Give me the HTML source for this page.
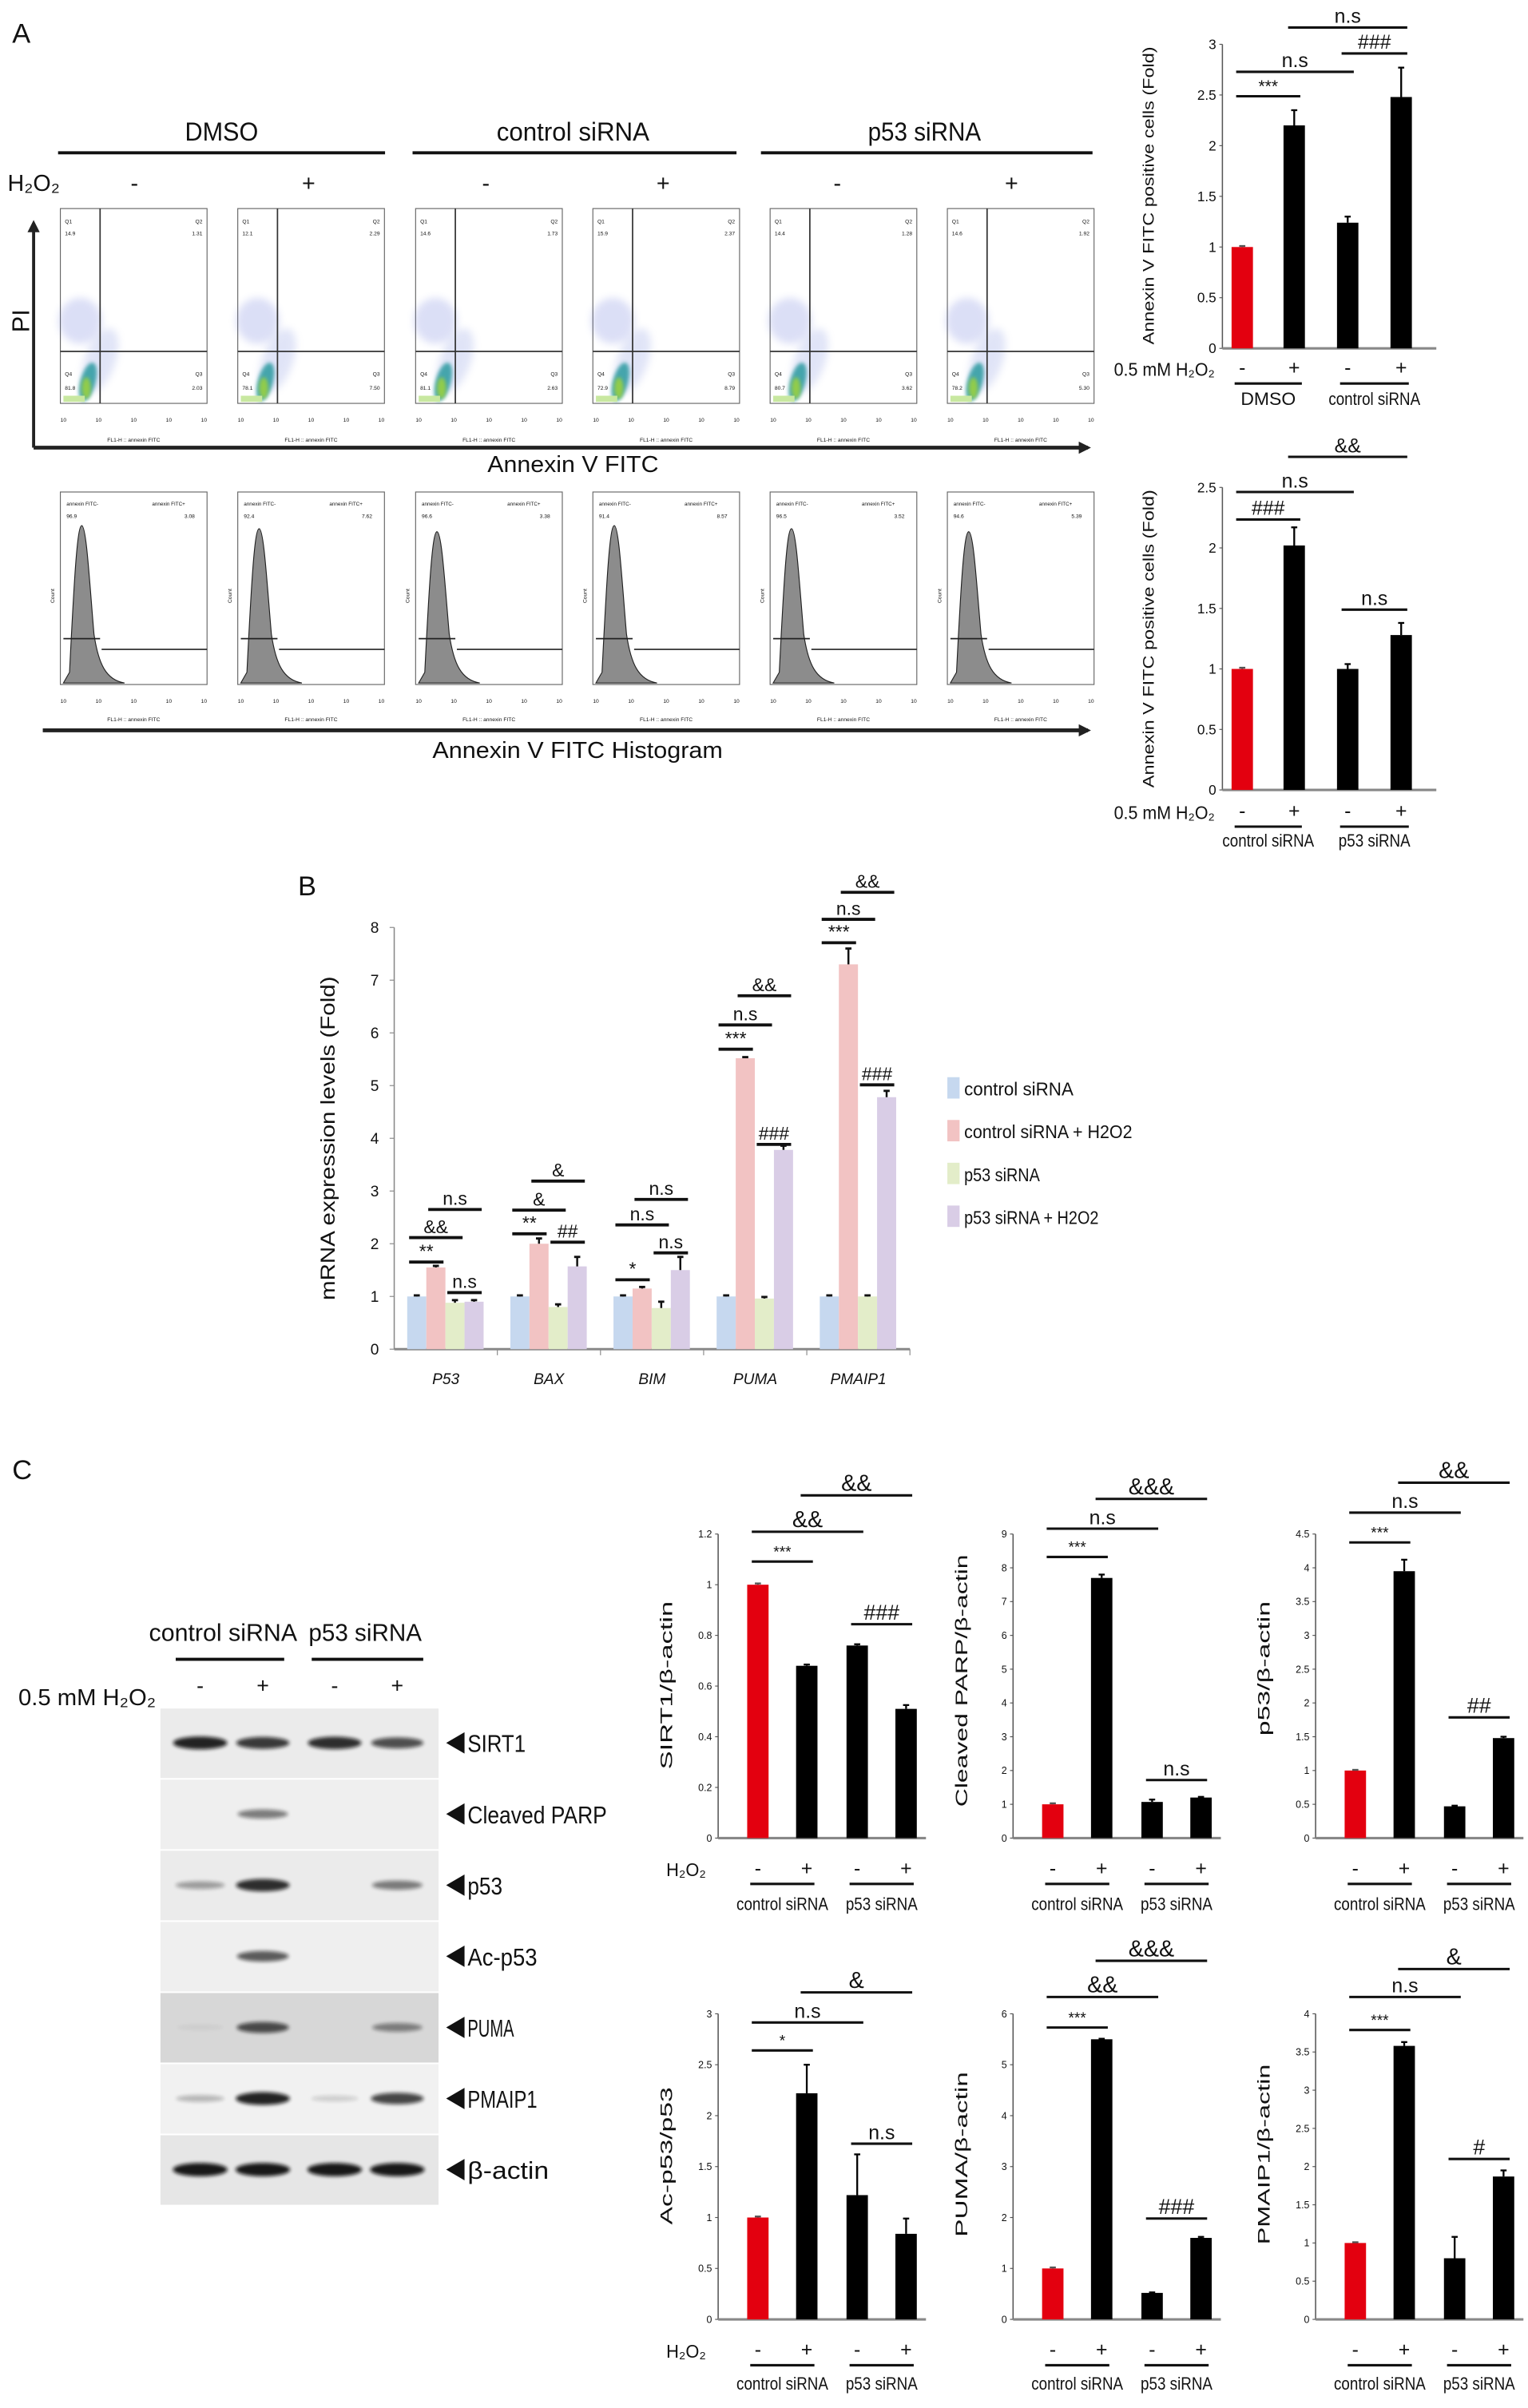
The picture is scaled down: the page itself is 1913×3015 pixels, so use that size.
<!DOCTYPE html>
<html><head><meta charset="utf-8"><title>Figure</title>
<style>
html,body{margin:0;padding:0;background:#fff;}
svg{display:block;}
text{font-family:"Liberation Sans Narrow","Liberation Sans",sans-serif;fill:#111;}
</style></head>
<body>
<svg id="fig" xmlns="http://www.w3.org/2000/svg" width="1913" height="3015" viewBox="0 0 1000 1576" preserveAspectRatio="none">
<defs>
<filter id="blur1" x="-50%" y="-50%" width="200%" height="200%"><feGaussianBlur stdDeviation="1.2"/></filter>
<filter id="blur2" x="-50%" y="-50%" width="200%" height="200%"><feGaussianBlur stdDeviation="2.5"/></filter>
<marker id="ah" markerWidth="8" markerHeight="8" refX="6" refY="4" orient="auto" markerUnits="userSpaceOnUse"><path d="M0,0 L8,4 L0,8 Z" fill="#222"/></marker>
</defs>
</svg>
<script>
// ---------- DATA ----------
const a1Groups = ["DMSO", "control siRNA"];
const a1Values = [1.0, 2.2, 1.24, 2.48];
const a1Errors = [0.01, 0.15, 0.06, 0.29];
const a1Ticks = [0, 0.5, 1, 1.5, 2, 2.5, 3];

const a2Groups = ["control siRNA", "p53 siRNA"];
const a2Values = [1.0, 2.02, 1.0, 1.28];
const a2Errors = [0.01, 0.15, 0.04, 0.1];
const a2Ticks = [0, 0.5, 1, 1.5, 2, 2.5];

const bCategories = ["P53", "BAX", "BIM", "PUMA", "PMAIP1"];
const bSeriesNames = ["control siRNA", "control siRNA + H2O2", "p53 siRNA", "p53 siRNA + H2O2"];
const bControl = [1, 1, 1, 1, 1];
const bControlH2O2 = [1.55, 2.0, 1.15, 5.52, 7.3];
const bP53 = [0.88, 0.8, 0.78, 0.96, 1.0];
const bP53H2O2 = [0.9, 1.57, 1.5, 3.78, 4.78];
const bErrControl = [0.02, 0.02, 0.02, 0.02, 0.02];
const bErrControlH2O2 = [0.03, 0.1, 0.03, 0.02, 0.3];
const bErrP53 = [0.05, 0.05, 0.12, 0.03, 0.02];
const bErrP53H2O2 = [0.03, 0.18, 0.25, 0.08, 0.12];
const bTicks = [0, 1, 2, 3, 4, 5, 6, 7, 8];

const cSirt1Values = [1.0, 0.68, 0.76, 0.51];
const cSirt1Errors = [0.005, 0.005, 0.005, 0.015];
const cSirt1Ticks = [0, 0.2, 0.4, 0.6, 0.8, 1, 1.2];
const cParpValues = [1.0, 7.7, 1.07, 1.2];
const cParpErrors = [0.03, 0.1, 0.07, 0.02];
const cParpTicks = [0, 1, 2, 3, 4, 5, 6, 7, 8, 9];
const cP53Values = [1.0, 3.95, 0.47, 1.48];
const cP53Errors = [0.01, 0.17, 0.01, 0.02];
const cP53Ticks = [0, 0.5, 1, 1.5, 2, 2.5, 3, 3.5, 4, 4.5];
const cAcValues = [1.0, 2.22, 1.22, 0.84];
const cAcErrors = [0.01, 0.28, 0.4, 0.15];
const cAcTicks = [0, 0.5, 1, 1.5, 2, 2.5, 3];
const cPumaValues = [1.0, 5.5, 0.52, 1.6];
const cPumaErrors = [0.02, 0.01, 0.01, 0.02];
const cPumaTicks = [0, 1, 2, 3, 4, 5, 6];
const cPmaipValues = [1.0, 3.58, 0.8, 1.87];
const cPmaipErrors = [0.01, 0.05, 0.28, 0.08];
const cPmaipTicks = [0, 0.5, 1, 1.5, 2, 2.5, 3, 3.5, 4];
const cGroups = ["control siRNA", "p53 siRNA"];

const flowQ = [["14.9","1.31","81.8","2.03"],["12.1","2.29","78.1","7.50"],["14.6","1.73","81.1","2.63"],["15.9","2.37","72.9","8.79"],["14.4","1.28","80.7","3.62"],["14.6","1.92","78.2","5.30"]];
const histQ = [["96.9","3.08"],["92.4","7.62"],["96.6","3.38"],["91.4","8.57"],["96.5","3.52"],["94.6","5.39"]];

const blotRows = ["SIRT1", "Cleaved PARP", "p53", "Ac-p53", "PUMA", "PMAIP1", "β-actin"];
const blotIntensity = [[0.9,0.8,0.85,0.7],[0,0.5,0,0],[0.35,0.85,0,0.5],[0,0.65,0,0],[0.05,0.7,0,0.45],[0.25,0.9,0.15,0.75],[0.95,0.95,0.95,0.95]];

// ---------- HELPERS ----------
const NS = 'http://www.w3.org/2000/svg';
const svg = document.getElementById('fig');
function mk(tag, attrs, parent) {
  const e = document.createElementNS(NS, tag);
  for (const k in attrs) e.setAttribute(k, attrs[k]);
  (parent || svg).appendChild(e);
  return e;
}
function line(x1, y1, x2, y2, w, name, color) {
  const l = mk('line', {x1: x1, y1: y1, x2: x2, y2: y2, stroke: color || '#111', 'stroke-width': w});
  
  
  return l;
}
function txt(x, y, s, size, anchor, name, opts) {
  const t = mk('text', {x: x, y: y, 'font-size': size, 'text-anchor': anchor || 'middle'});
  t.textContent = s;
  if (opts && opts.len) { t.setAttribute('textLength', opts.len); t.setAttribute('lengthAdjust', 'spacingAndGlyphs'); }
  if (opts && opts.rot) t.setAttribute('transform', 'rotate(-90 ' + x + ' ' + y + ')');
  if (opts && opts.style) t.setAttribute('font-style', opts.style);
  if (opts && opts.weight) t.setAttribute('font-weight', opts.weight);
  if (opts && opts.family) t.setAttribute('style', 'font-family:' + opts.family);
  
  
  return t;
}
function fmt(v) { return String(+v.toFixed(2)); }

function sig(cx, i1, i2, y, label, size) {
  line(cx[i1] - 4, y, cx[i2] + 4, y, 1.6, 'significance-bar');
  txt((cx[i1] + cx[i2]) / 2, y - 3, label, size || 11, 'middle', 'significance-label');
}

function barChart(cfg, values, errors, ticks, groups) {
  const ax = cfg.ax, y0 = cfg.y0, y1 = cfg.y1, max = ticks[ticks.length - 1];
  const ys = v => y0 - v / max * (y0 - y1);
  const cx = cfg.offsets.map(o => ax + o);
  line(ax, y1, ax, y0, 0.8, 'y-axis', '#555');
  line(ax, y0, ax + cfg.baseLen, y0, 1.6, 'x-axis', '#888');
  ticks.forEach(t => {
    line(ax - 2, ys(t), ax, ys(t), 0.6, 'y-tick', '#555');
    txt(ax - 4, ys(t) + cfg.tickSize * 0.35, fmt(t), cfg.tickSize, 'end', 'y-tick-label');
  });
  values.forEach((v, i) => {
    const r = mk('rect', {x: cx[i] - cfg.bw / 2, y: ys(v), width: cfg.bw, height: y0 - ys(v), fill: i === 0 ? '#e3000f' : '#000'});
    
    
    const e = errors[i];
    line(cx[i], ys(v), cx[i], ys(v + e), 1.2, 'error-bar', i === 0 ? '#555' : '#000');
    line(cx[i] - 2, ys(v + e), cx[i] + 2, ys(v + e), 1.2, 'error-cap', i === 0 ? '#555' : '#000');
  });
  txt(cfg.ylx, cfg.yly, cfg.ylabel, cfg.ylSize, 'middle', 'y-axis-title', {rot: true, len: cfg.ylLen, family: '"Liberation Sans",sans-serif'});
  txt(cfg.hx, cfg.sy + 1, cfg.hlabel, 12, 'end', 'h2o2-label', {len: cfg.hLen});
  ['-', '+', '-', '+'].forEach((s, i) => txt(cx[i], cfg.sy, s, 13, 'middle', 'treatment-sign'));
  line(cx[0] - 5, cfg.ly, cx[1] + 5, cfg.ly, 1.6, 'group-underline');
  line(cx[2] - 5, cfg.ly, cx[3] + 5, cfg.ly, 1.6, 'group-underline');
  txt((cx[0] + cx[1]) / 2, cfg.gy, groups[0], 11.5, 'middle', 'group-label', {len: groups[0].length > 5 ? 60 : 36});
  txt((cx[2] + cx[3]) / 2, cfg.gy, groups[1], 11.5, 'middle', 'group-label', {len: groups[1].length > 5 ? (groups[1] === 'p53 siRNA' ? 47 : 60) : 36});
  return cx;
}

// ---------- PANEL A ----------
txt(8, 28, 'A', 18, 'start', 'panel-a-label');
[['DMSO', 145, 38, 252, 48], ['control siRNA', 375, 270, 482, 100], ['p53 siRNA', 605, 498, 715, 74]].forEach(h => {
  txt(h[1], 92, h[0], 17, 'middle', 'condition-header', {len: h[4]});
  line(h[2], 100, h[3], 100, 2, 'header-underline');
});
txt(5, 125, 'H₂O₂', 15, 'start', 'h2o2-row-label');
[88, 202, 318, 434, 548, 662].forEach((x, i) => txt(x, 125, i % 2 ? '+' : '-', 15, 'middle', 'treatment-sign'));
const pl = mk('path', {d: 'M22,293 L22,146', stroke: '#222', 'stroke-width': 2, 'marker-end': 'url(#ah)', fill: 'none'});


txt(19, 210, 'PI', 16, 'middle', 'pi-axis-title', {rot: true});
const ax1 = mk('path', {d: 'M22,293 L712,293', stroke: '#222', 'stroke-width': 2.5, 'marker-end': 'url(#ah)', fill: 'none'});


txt(375, 309, 'Annexin V FITC', 15, 'middle', 'annexin-axis-title', {len: 112});

const boxL = [39.5, 155.6, 272, 388, 504, 620];
boxL.forEach((L, i) => {
  const g = mk('g', {});
  
  
  mk('rect', {x: L, y: 136.5, width: 96, height: 127.5, fill: '#fff', stroke: '#666', 'stroke-width': 0.6}, g);
  mk('ellipse', {cx: L + 13, cy: 210, rx: 14, ry: 15, fill: '#6070d8', opacity: 0.22, filter: 'url(#blur2)'}, g);
  mk('ellipse', {cx: L + 26, cy: 236, rx: 10, ry: 22, fill: '#6a7ed8', opacity: 0.2, filter: 'url(#blur2)', transform: 'rotate(20 ' + (L + 26) + ' 236)'}, g);
  mk('ellipse', {cx: L + 18, cy: 250, rx: 5, ry: 13, fill: '#2a9aa0', opacity: 0.85, filter: 'url(#blur1)', transform: 'rotate(15 ' + (L + 18) + ' 250)'}, g);
  mk('ellipse', {cx: L + 17, cy: 254, rx: 3, ry: 7, fill: '#9ad040', opacity: 0.9, filter: 'url(#blur1)'}, g);
  mk('rect', {x: L + 2, y: 259, width: 14, height: 4, fill: '#c8e8a0'}, g);
  mk('line', {x1: L + 26, y1: 136.5, x2: L + 26, y2: 264, stroke: '#333', 'stroke-width': 0.9}, g);
  mk('line', {x1: L, y1: 230, x2: L + 96, y2: 230, stroke: '#333', 'stroke-width': 0.9}, g);
  const q = flowQ[i];
  txt(L + 3, 146, 'Q1', 3.5, 'start', 'quadrant-name');
  txt(L + 3, 154, q[0], 3.5, 'start', 'quadrant-value');
  txt(L + 93, 146, 'Q2', 3.5, 'end', 'quadrant-name');
  txt(L + 93, 154, q[1], 3.5, 'end', 'quadrant-value');
  txt(L + 3, 246, 'Q4', 3.5, 'start', 'quadrant-name');
  txt(L + 3, 255, q[2], 3.5, 'start', 'quadrant-value');
  txt(L + 93, 246, 'Q3', 3.5, 'end', 'quadrant-name');
  txt(L + 93, 255, q[3], 3.5, 'end', 'quadrant-value');
  [0, 1, 2, 3, 4].forEach(k => txt(L + 2 + k * 23, 276, '10', 3.5, 'middle', 'x-tick-label'));
  txt(L + 48, 289, 'FL1-H :: annexin FITC', 3.5, 'middle', 'x-axis-title');
  const hg = mk('g', {});
  
  
  mk('rect', {x: L, y: 322, width: 96, height: 126, fill: '#fff', stroke: '#666', 'stroke-width': 0.6}, hg);
  const pk = 344 + (i % 3) * 2;
  mk('path', {d: 'M' + (L + 2) + ',447 L' + (L + 6) + ',440 C' + (L + 9) + ',380 ' + (L + 11) + ',' + pk + ' ' + (L + 14) + ',' + pk + ' C' + (L + 17) + ',' + pk + ' ' + (L + 19) + ',380 ' + (L + 22) + ',415 C' + (L + 25) + ',435 ' + (L + 30) + ',445 ' + (L + 42) + ',447 Z', fill: '#8c8c8c', stroke: '#222', 'stroke-width': 0.6}, hg);
  mk('line', {x1: L + 2, y1: 418, x2: L + 26, y2: 418, stroke: '#222', 'stroke-width': 0.9}, hg);
  mk('line', {x1: L + 27, y1: 425, x2: L + 96, y2: 425, stroke: '#222', 'stroke-width': 0.9}, hg);
  txt(L + 4, 331, 'annexin FITC-', 3.3, 'start', 'gate-name');
  txt(L + 60, 331, 'annexin FITC+', 3.3, 'start', 'gate-name');
  txt(L + 4, 339, histQ[i][0], 3.5, 'start', 'gate-value');
  txt(L + 88, 339, histQ[i][1], 3.5, 'end', 'gate-value');
  txt(L - 4, 390, 'Count', 3.5, 'middle', 'hist-y-title', {rot: true});
  [0, 1, 2, 3, 4].forEach(k => txt(L + 2 + k * 23, 460, '10', 3.5, 'middle', 'x-tick-label'));
  txt(L + 48, 472, 'FL1-H :: annexin FITC', 3.5, 'middle', 'x-axis-title');
});
const ax2 = mk('path', {d: 'M28,478 L712,478', stroke: '#222', 'stroke-width': 2.5, 'marker-end': 'url(#ah)', fill: 'none'});


txt(378, 496, 'Annexin V FITC Histogram', 15, 'middle', 'histogram-axis-title', {len: 190});

const cxA1 = barChart({ax: 800, y0: 228, y1: 29, offsets: [13, 47, 82, 117], bw: 14, baseLen: 140, tickSize: 9,
  ylabel: 'Annexin V FITC positive cells (Fold)', ylx: 755, yly: 128, ylSize: 10, ylLen: 195,
  hx: 795, hlabel: '0.5 mM H₂O₂', hLen: 66, sy: 245, ly: 251, gy: 265}, a1Values, a1Errors, a1Ticks, a1Groups);
sig(cxA1, 0, 1, 63, '***', 11);
sig(cxA1, 0, 2, 47, 'n.s', 13);
sig(cxA1, 2, 3, 35, '###', 13);
sig(cxA1, 1, 3, 18, 'n.s', 13);
const cxA2 = barChart({ax: 800, y0: 517, y1: 319, offsets: [13, 47, 82, 117], bw: 14, baseLen: 140, tickSize: 9,
  ylabel: 'Annexin V FITC positive cells (Fold)', ylx: 755, yly: 418, ylSize: 10, ylLen: 195,
  hx: 795, hlabel: '0.5 mM H₂O₂', hLen: 66, sy: 535, ly: 541, gy: 554}, a2Values, a2Errors, a2Ticks, a2Groups);
sig(cxA2, 0, 1, 340, '###', 13);
sig(cxA2, 0, 2, 322, 'n.s', 13);
sig(cxA2, 1, 3, 299, '&&', 13);
sig(cxA2, 2, 3, 399, 'n.s', 13);

// ---------- PANEL B ----------
txt(195, 586, 'B', 18, 'start', 'panel-b-label');
(function () {
  const ax = 258, y0 = 883, y1 = 607, max = 8, gw = 67.5, bw = 12.5;
  const ys = v => y0 - v / max * (y0 - y1);
  const series = [bControl, bControlH2O2, bP53, bP53H2O2];
  const errs = [bErrControl, bErrControlH2O2, bErrP53, bErrP53H2O2];
  const colors = ['#c6d8ef', '#f2c3c3', '#e3edc9', '#d9cde6'];
  line(ax, y1, ax, y0, 0.8, 'y-axis', '#888');
  line(ax, y0, ax + gw * 5, y0, 1.6, 'x-axis', '#888');
  bTicks.forEach(t => {
    line(ax - 3, ys(t), ax, ys(t), 0.6, 'y-tick', '#888');
    txt(ax - 10, ys(t) + 3.5, fmt(t), 10, 'end', 'y-tick-label');
  });
  bCategories.forEach((c, gi) => {
    line(ax + gw * (gi + 1), y0, ax + gw * (gi + 1), y0 + 4, 0.6, 'x-tick', '#888');
    txt(ax + gw * gi + gw / 2, 906, c, 10, 'middle', 'category-label', {style: 'italic'});
    series.forEach((s, si) => {
      const x = ax + gw * gi + 8.5 + si * bw;
      const r = mk('rect', {x: x, y: ys(s[gi]), width: bw, height: y0 - ys(s[gi]), fill: colors[si]});
      
      
      const e = errs[si][gi];
      line(x + bw / 2, ys(s[gi]), x + bw / 2, ys(s[gi] + e), 1.3, 'error-bar');
      line(x + bw / 2 - 2, ys(s[gi] + e), x + bw / 2 + 2, ys(s[gi] + e), 1.5, 'error-cap');
    });
  });
  txt(219, 745, 'mRNA expression levels (Fold)', 13, 'middle', 'y-axis-title', {rot: true, len: 212, family: '"Liberation Sans",sans-serif'});
  bSeriesNames.forEach((n, i) => {
    const r = mk('rect', {x: 620, y: 705 + i * 28, width: 8, height: 14, fill: colors[i]});
    
    
    txt(631, 717 + i * 28, n, 12, 'start', 'legend-entry', {len: n.length * 5.5});
  });
  const bc = (g, s) => ax + gw * g + 8.5 + s * bw + bw / 2;
  const bs = (g, s1, s2, y, lab) => {
    line(bc(g, s1) - 5, y, bc(g, s2) + 5, y, 2, 'significance-bar');
    txt((bc(g, s1) + bc(g, s2)) / 2, y - 3, lab, 12, 'middle', 'significance-label');
  };
  bs(0, 0, 1, 826, '**'); bs(0, 0, 2, 810, '&&'); bs(0, 1, 3, 791.6, 'n.s'); bs(0, 2, 3, 846, 'n.s');
  bs(1, 0, 1, 807.5, '**'); bs(1, 0, 2, 792, '&'); bs(1, 1, 3, 773, '&'); bs(1, 2, 3, 813, '##');
  bs(2, 0, 1, 837.6, '*'); bs(2, 0, 2, 801.7, 'n.s'); bs(2, 1, 3, 785, 'n.s'); bs(2, 2, 3, 820, 'n.s');
  bs(3, 0, 1, 686.7, '***'); bs(3, 0, 2, 670.8, 'n.s'); bs(3, 1, 3, 651.7, '&&'); bs(3, 2, 3, 749, '###');
  bs(4, 0, 1, 617, '***'); bs(4, 0, 2, 601.7, 'n.s'); bs(4, 1, 3, 584, '&&'); bs(4, 2, 3, 710, '###');
})();

// ---------- PANEL C ----------
txt(8, 968, 'C', 18, 'start', 'panel-c-label');
txt(146, 1074, 'control siRNA', 16, 'middle', 'blot-header', {len: 97});
txt(239, 1074, 'p53 siRNA', 16, 'middle', 'blot-header', {len: 74});
line(115, 1086, 186, 1086, 2, 'blot-header-underline');
line(204, 1086, 277, 1086, 2, 'blot-header-underline');
txt(12, 1116, '0.5 mM H₂O₂', 15, 'start', 'blot-h2o2-label', {len: 90});
const lanes = [131, 172, 219, 260];
lanes.forEach((x, i) => txt(x, 1108, i % 2 ? '+' : '-', 14, 'middle', 'treatment-sign'));
const rowBg = ['#ebebeb', '#efefef', '#ebebeb', '#efefef', '#d7d7d7', '#f1f1f1', '#e6e6e6'];
blotRows.forEach((name, r) => {
  const top = 1118.2 + r * 46.55;
  const bg = mk('rect', {x: 105, y: top, width: 182, height: 45.5, fill: rowBg[r]});
  
  
  const cy = top + 22.5;
  lanes.forEach((x, li) => {
    const v = blotIntensity[r][li];
    if (v <= 0) return;
    const b = mk('ellipse', {cx: x, cy: cy, rx: 15 + v * 3, ry: 1.5 + v * 3, fill: '#111', opacity: v, filter: 'url(#blur1)'});
    
    
  });
  const tri = mk('path', {d: 'M292,' + cy + ' L304,' + (cy - 7) + ' L304,' + (cy + 7) + ' Z', fill: '#111'});
  
  
  txt(306, cy + 6, name, 16, 'start', 'band-label', {len: name.length * 7.6});
});

const topRow = {y0: 1203, y1: 1004, sy: 1227, ly: 1233, gy: 1250};
const botRow = {y0: 1518, y1: 1318, sy: 1542, ly: 1548, gy: 1564};
function cCfg(ax, row, ylabel, ylLen, yly, h) {
  return {ax: ax, y0: row.y0, y1: row.y1, offsets: [26, 58, 91, 123], bw: 14, baseLen: 136, tickSize: 6.5,
    ylabel: ylabel, ylx: ax - 30, yly: yly, ylSize: 11, ylLen: ylLen,
    hx: h ? ax - 8 : -100, hlabel: h ? 'H₂O₂' : '', hLen: h ? 26 : 1, sy: row.sy, ly: row.ly, gy: row.gy};
}
const c1 = barChart(cCfg(470, topRow, 'SIRT1/β-actin', 110, 1103, true), cSirt1Values, cSirt1Errors, cSirt1Ticks, cGroups);
sig(c1, 0, 1, 1022, '***', 10); sig(c1, 0, 2, 1002.5, '&&', 15); sig(c1, 1, 3, 978.7, '&&', 15); sig(c1, 2, 3, 1063, '###', 14);
const c2 = barChart(cCfg(663, topRow, 'Cleaved PARP/β-actin', 165, 1100, false), cParpValues, cParpErrors, cParpTicks, cGroups);
sig(c2, 0, 1, 1019, '***', 10); sig(c2, 0, 2, 1000.5, 'n.s', 13); sig(c2, 1, 3, 981, '&&&', 15); sig(c2, 2, 3, 1165, 'n.s', 13);
const c3 = barChart(cCfg(861, topRow, 'p53/β-actin', 88, 1092, false), cP53Values, cP53Errors, cP53Ticks, cGroups);
sig(c3, 0, 1, 1009.5, '***', 10); sig(c3, 0, 2, 990, 'n.s', 13); sig(c3, 1, 3, 970.4, '&&', 15); sig(c3, 2, 3, 1124, '##', 14);
const c4 = barChart(cCfg(470, botRow, 'Ac-p53/p53', 90, 1411, true), cAcValues, cAcErrors, cAcTicks, cGroups);
sig(c4, 0, 1, 1342, '*', 10); sig(c4, 0, 2, 1323.7, 'n.s', 13); sig(c4, 1, 3, 1304, '&', 15); sig(c4, 2, 3, 1403, 'n.s', 13);
const c5 = barChart(cCfg(663, botRow, 'PUMA/β-actin', 108, 1410, false), cPumaValues, cPumaErrors, cPumaTicks, cGroups);
sig(c5, 0, 1, 1327, '***', 10); sig(c5, 0, 2, 1307, '&&', 15); sig(c5, 1, 3, 1283.3, '&&&', 15); sig(c5, 2, 3, 1452, '###', 14);
const c6 = barChart(cCfg(861, botRow, 'PMAIP1/β-actin', 118, 1410, false), cPmaipValues, cPmaipErrors, cPmaipTicks, cGroups);
sig(c6, 0, 1, 1328.6, '***', 10); sig(c6, 0, 2, 1307, 'n.s', 13); sig(c6, 1, 3, 1288.7, '&', 15); sig(c6, 2, 3, 1413, '#', 14);
</script>
</body></html>
